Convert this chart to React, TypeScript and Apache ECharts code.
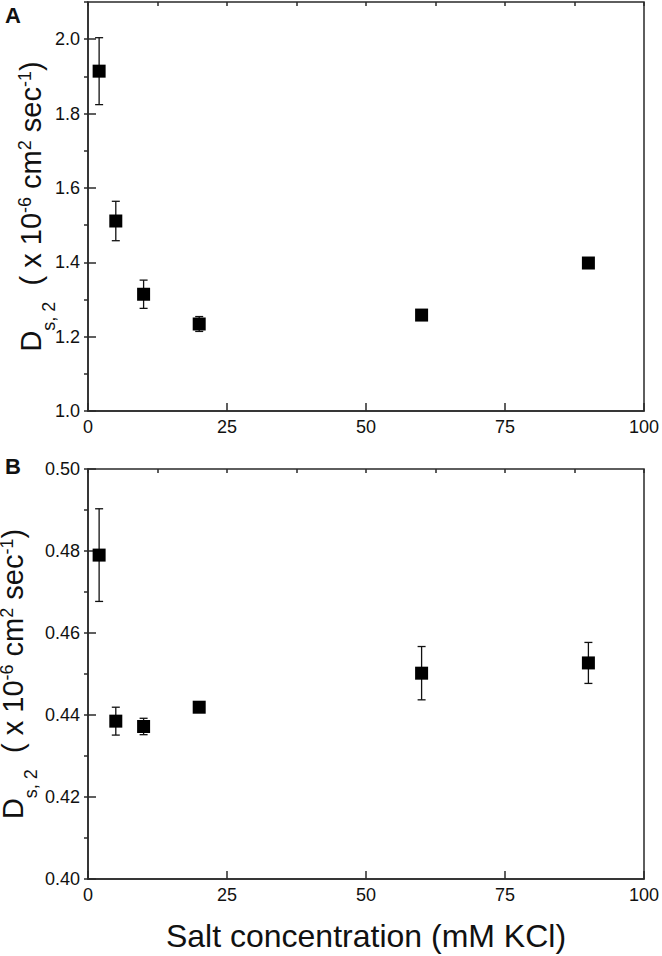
import React, { useEffect, useRef } from "react";
import * as echarts from "echarts";

const xTicks = [0, 25, 50, 75, 100];

// Panel A: salt concentration (mM KCl), D_s,2 (x10^-6 cm^2/s), error
const xA = [2, 5, 10, 20, 60, 90];
const yA = [1.914, 1.511, 1.314, 1.234, 1.258, 1.398];
const errA = [0.09, 0.053, 0.038, 0.02, 0.008, 0.012];

// Panel B
const xB = [2, 5, 10, 20, 60, 90];
const yB = [0.479, 0.4385, 0.4372, 0.4419, 0.4502, 0.4527];
const errB = [0.0113, 0.0034, 0.002, 0.0005, 0.0065, 0.005];

const FONT = "Liberation Sans, Arial, sans-serif";
const AX = "#2a2a2a";

const yName =
  "{b|D}{sub|s, 2}{b|  ( x 10}{sup|-6}{b| cm}{sup|2}{b| sec}{sup|-1}{b|)}";
const yRich = {
  b: { fontSize: 29, fontFamily: FONT, color: "#111", lineHeight: 30, verticalAlign: "middle" },
  sub: { fontSize: 18, fontFamily: FONT, color: "#111", verticalAlign: "middle", lineHeight: 14, padding: [35, 0, 0, 0] },
  sup: { fontSize: 18, fontFamily: FONT, color: "#111", verticalAlign: "middle", lineHeight: 14, padding: [0, 0, 12, 0] },
};

function majorX(grid: number, showName: boolean) {
  return {
    type: "value",
    gridIndex: grid,
    min: xTicks[0],
    max: xTicks[xTicks.length - 1],
    interval: 25,
    axisLine: { show: true, lineStyle: { color: AX, width: 1.5 } },
    axisTick: { show: true, inside: true, length: 8, lineStyle: { color: AX, width: 1.5 } },
    axisLabel: { show: true, fontSize: 18, fontFamily: FONT, color: "#111", margin: 7 },
    splitLine: { show: false },
    name: showName ? "Salt concentration (mM KCl)" : "",
    nameLocation: "middle",
    nameGap: 41,
    nameMoveOverlap: false,
    nameTextStyle: { fontSize: 32, fontFamily: FONT, color: "#111" },
  };
}
function minorX(grid: number) {
  return {
    type: "value",
    gridIndex: grid,
    min: 0,
    max: 100,
    interval: 12.5,
    axisLine: { show: false },
    axisTick: { show: true, inside: true, length: 4, lineStyle: { color: AX, width: 1.5 } },
    axisLabel: { show: false },
    splitLine: { show: false },
  };
}
function majorY(grid: number, min: number, max: number, interval: number, digits: number, gap: number) {
  return {
    type: "value",
    gridIndex: grid,
    min,
    max,
    interval,
    axisLine: { show: true, lineStyle: { color: AX, width: 1.5 } },
    axisTick: { show: true, inside: true, length: 8, lineStyle: { color: AX, width: 1.5 } },
    axisLabel: {
      show: true,
      fontSize: 18,
      fontFamily: FONT,
      color: "#111",
      margin: 8,
      showMaxLabel: digits === 2,
      formatter: (v: number) => v.toFixed(digits),
    },
    splitLine: { show: false },
    name: yName,
    nameLocation: "middle",
    nameRotate: 90,
    nameGap: gap,
    nameMoveOverlap: false,
    nameTextStyle: { rich: yRich },
  };
}
function minorY(grid: number, min: number, max: number, interval: number) {
  return {
    type: "value",
    gridIndex: grid,
    min,
    max,
    interval,
    axisLine: { show: false },
    axisTick: { show: true, inside: true, length: 4, lineStyle: { color: AX, width: 1.5 } },
    axisLabel: { show: false },
    splitLine: { show: false },
  };
}

function errSeries(xs: number[], ys: number[], es: number[], axisIdx: number) {
  return {
    type: "custom",
    xAxisIndex: axisIdx,
    yAxisIndex: axisIdx,
    z: 2,
    data: xs.map((x, i) => [x, ys[i], es[i]]),
    renderItem: (params: any, api: any) => {
      const x = api.value(0);
      const y = api.value(1);
      const e = api.value(2);
      const top = api.coord([x, y + e]);
      const bot = api.coord([x, y - e]);
      const style = { stroke: "#111", lineWidth: 1.3 };
      const cap = 4;
      return {
        type: "group",
        children: [
          { type: "line", shape: { x1: top[0], y1: top[1], x2: bot[0], y2: bot[1] }, style },
          { type: "line", shape: { x1: top[0] - cap, y1: top[1], x2: top[0] + cap, y2: top[1] }, style },
          { type: "line", shape: { x1: bot[0] - cap, y1: bot[1], x2: bot[0] + cap, y2: bot[1] }, style },
        ],
      };
    },
  };
}

function pointSeries(xs: number[], ys: number[], axisIdx: number) {
  return {
    type: "scatter",
    xAxisIndex: axisIdx,
    yAxisIndex: axisIdx,
    z: 3,
    symbol: "rect",
    symbolSize: 13,
    itemStyle: { color: "#000", opacity: 1 },
    data: xs.map((x, i) => [x, ys[i]]),
  };
}

export default function App() {
  const ref = useRef<HTMLDivElement>(null);
  useEffect(() => {
    document.body.style.margin = "0";
    const chart = echarts.init(ref.current!, null, { renderer: "svg" });
    chart.setOption({
      animation: false,
      backgroundColor: "#fff",
      grid: [
        { left: 88, right: 18, top: 2, height: 409, show: true, borderColor: AX, borderWidth: 1.5, backgroundColor: "transparent", outerBoundsMode: "none", containLabel: false },
        { left: 88, right: 18, top: 469, height: 410, show: true, borderColor: AX, borderWidth: 1.5, backgroundColor: "transparent", outerBoundsMode: "none", containLabel: false },
      ],
      xAxis: [majorX(0, false), minorX(0), majorX(1, true), minorX(1)],
      yAxis: [
        majorY(0, 1.0, 2.1, 0.2, 1, 42),
        minorY(0, 1.0, 2.1, 0.1),
        majorY(1, 0.4, 0.5, 0.02, 2, 60),
        minorY(1, 0.4, 0.5, 0.01),
      ].map((a: any, i: number) => ({ ...a, gridIndex: i < 2 ? 0 : 1 })),
      series: [
        errSeries(xA, yA, errA, 0),
        pointSeries(xA, yA, 0),
        errSeries(xB, yB, errB, 2),
        pointSeries(xB, yB, 2),
      ],
      graphic: [
        { type: "text", left: 5, top: 4, style: { text: "A", fontSize: 22, fontWeight: "bold", fontFamily: FONT, fill: "#111" } },
        { type: "text", left: 5, top: 455, style: { text: "B", fontSize: 22, fontWeight: "bold", fontFamily: FONT, fill: "#111" } },
      ],
    });
    return () => chart.dispose();
  }, []);
  return <div ref={ref} style={{ width: 662, height: 956 }} />;
}
